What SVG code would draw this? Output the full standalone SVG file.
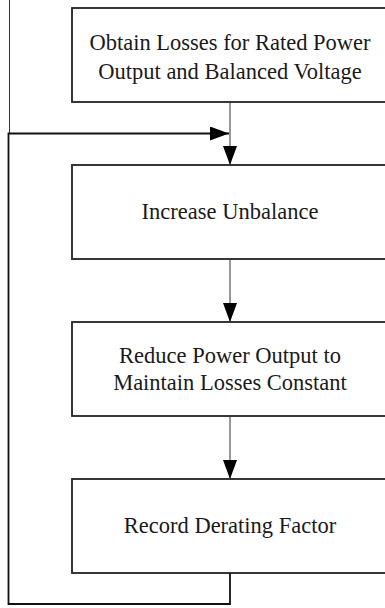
<svg xmlns="http://www.w3.org/2000/svg" width="385" height="608" viewBox="0 0 385 608">
<defs>
<style>
.box{fill:#fff;stroke:#222;stroke-width:1.8}
.t{font-family:"Liberation Serif","Times New Roman",serif;font-size:22.5px;fill:#1a1a1a;text-anchor:middle}
.c{fill:none;stroke:#333;stroke-width:1}
.loop{fill:none;stroke:#111;stroke-width:1.8}
</style>
<marker id="ah" markerWidth="19" markerHeight="14" viewBox="0 0 19 14" refX="19" refY="7" markerUnits="userSpaceOnUse" orient="auto">
<path d="M0,0 L19,7 L0,14 Z" fill="#000"/>
</marker>
</defs>
<rect width="385" height="608" fill="#fff"/>
<g id="n1">
<rect class="box" x="72" y="8" width="320" height="94"/>
<text class="t" x="230" y="50">Obtain Losses for Rated Power</text>
<text class="t" x="230" y="79">Output and Balanced Voltage</text>
</g>
<g id="n2">
<rect class="box" x="72" y="165" width="320" height="94"/>
<text class="t" x="230" y="219">Increase Unbalance</text>
</g>
<g id="n3">
<rect class="box" x="72" y="322" width="320" height="94"/>
<text class="t" x="230" y="363">Reduce Power Output to</text>
<text class="t" x="230" y="390">Maintain Losses Constant</text>
</g>
<g id="n4">
<rect class="box" x="72" y="479" width="320" height="94"/>
<text class="t" x="230" y="533">Record Derating Factor</text>
</g>
<g id="connectors">
<line class="c" x1="9.5" y1="0" x2="9.5" y2="133"/>
<path class="c" d="M230,102 V165" marker-end="url(#ah)"/>
<path class="c" d="M230,259 V322" marker-end="url(#ah)"/>
<path class="c" d="M230,416 V479" marker-end="url(#ah)"/>
<path class="loop" d="M230,573 V604 H8.5 V133.5 H229" marker-end="url(#ah)"/>
</g>
</svg>
